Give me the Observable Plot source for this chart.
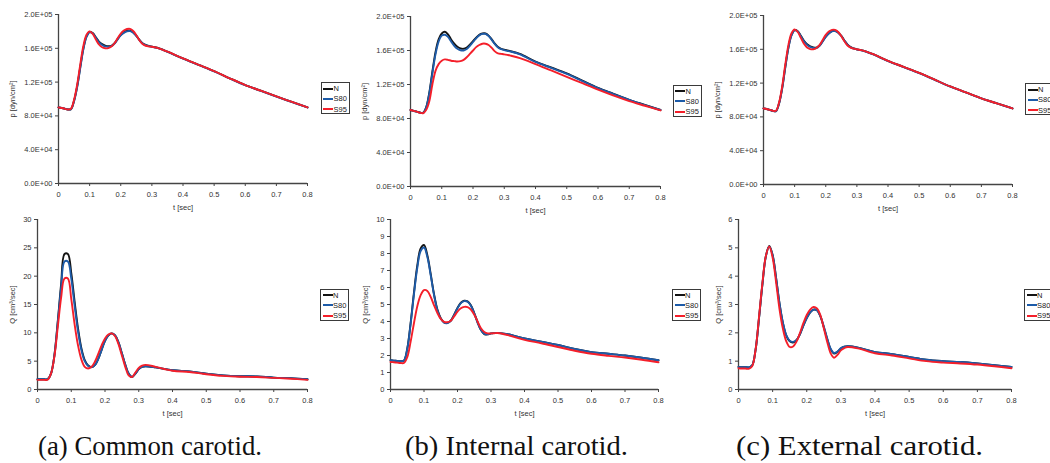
<!DOCTYPE html>
<html>
<head>
<meta charset="utf-8">
<script src="https://cdn.jsdelivr.net/npm/d3@7"></script>
<script src="https://cdn.jsdelivr.net/npm/@observablehq/plot@0.6"></script>
<style>
  body { margin: 0; background: #fff; }
  #fig { position: relative; width: 1050px; height: 463px; overflow: hidden; background: #fff; }
  .panel { position: absolute; }
  .legend {
    position: absolute; box-sizing: border-box; width: 29px; height: 32px;
    border: 1px solid #3a3a3a; background: #fff; padding: 0.5px 0 0 1.5px;
    font: 7.5px "Liberation Sans", Arial, sans-serif; color: #222;
  }
  .legend .row { display: flex; align-items: center; height: 10.3px; white-space: nowrap; }
  .legend .sw { display: inline-block; width: 10px; height: 2px; margin-right: 0.5px; }
  #captions { position: absolute; left: 0; top: 0; }
</style>
</head>
<body>
<div id="fig"></div>
<script>
// Time samples over one cardiac cycle [sec]
const t = [0, 0.01, 0.02, 0.03, 0.04, 0.05, 0.06, 0.07, 0.08, 0.09, 0.10,
  0.11, 0.12, 0.13, 0.14, 0.15, 0.16, 0.17, 0.18, 0.19, 0.20,
  0.21, 0.22, 0.23, 0.24, 0.25, 0.26, 0.27, 0.28, 0.29, 0.30, 0.31, 0.32,
  0.35, 0.40, 0.45, 0.50, 0.55, 0.60, 0.65, 0.70, 0.75, 0.80];

const series = ["N", "S80", "S95"];
const seriesColors = ["#141414", "#1d5ba8", "#f41f2a"];

// Pressure, in units of 1E+05 dyn/cm^2
const pCommonN   = [0.900,0.893,0.885,0.876,0.880,0.980,1.150,1.380,1.600,1.740,1.795,1.780,1.730,1.680,1.650,1.632,1.625,1.630,1.660,1.710,1.760,1.790,1.808,1.810,1.790,1.750,1.700,1.660,1.640,1.628,1.620,1.612,1.604,1.560,1.480,1.405,1.330,1.245,1.165,1.098,1.030,0.965,0.900];
const pCommonS80 = [0.900,0.893,0.885,0.876,0.880,0.975,1.140,1.370,1.590,1.735,1.790,1.775,1.725,1.672,1.640,1.622,1.617,1.625,1.655,1.705,1.752,1.782,1.800,1.803,1.785,1.745,1.698,1.658,1.638,1.626,1.618,1.610,1.602,1.558,1.478,1.403,1.328,1.243,1.163,1.097,1.029,0.964,0.900];
const pCommonS95 = [0.900,0.893,0.885,0.876,0.885,0.990,1.170,1.410,1.630,1.760,1.800,1.770,1.705,1.645,1.612,1.600,1.602,1.620,1.660,1.720,1.775,1.810,1.828,1.830,1.805,1.755,1.695,1.650,1.630,1.622,1.618,1.611,1.603,1.560,1.480,1.405,1.330,1.245,1.165,1.098,1.030,0.965,0.900];

const pInternalN   = [0.900,0.890,0.880,0.870,0.865,0.930,1.100,1.350,1.580,1.730,1.800,1.820,1.790,1.730,1.680,1.645,1.625,1.620,1.635,1.670,1.710,1.750,1.785,1.800,1.800,1.775,1.730,1.680,1.640,1.620,1.610,1.600,1.592,1.560,1.470,1.400,1.330,1.245,1.160,1.090,1.020,0.960,0.900];
const pInternalS80 = [0.900,0.890,0.880,0.870,0.865,0.925,1.090,1.330,1.555,1.705,1.775,1.785,1.760,1.705,1.655,1.620,1.603,1.600,1.618,1.655,1.700,1.742,1.778,1.795,1.795,1.770,1.725,1.676,1.636,1.615,1.605,1.596,1.588,1.555,1.465,1.395,1.325,1.240,1.157,1.088,1.018,0.958,0.900];
const pInternalS95 = [0.900,0.890,0.880,0.868,0.862,0.900,1.000,1.200,1.360,1.440,1.480,1.495,1.490,1.480,1.475,1.470,1.475,1.490,1.520,1.560,1.600,1.640,1.665,1.680,1.680,1.665,1.630,1.590,1.565,1.560,1.555,1.548,1.540,1.510,1.440,1.365,1.290,1.215,1.140,1.070,1.005,0.950,0.895];

const pExternalN   = [0.900,0.893,0.884,0.872,0.868,0.960,1.140,1.390,1.620,1.770,1.828,1.815,1.760,1.700,1.660,1.635,1.622,1.620,1.645,1.695,1.750,1.790,1.815,1.820,1.800,1.760,1.705,1.655,1.625,1.610,1.600,1.592,1.585,1.545,1.463,1.392,1.320,1.240,1.160,1.090,1.020,0.960,0.900];
const pExternalS80 = [0.900,0.893,0.884,0.872,0.868,0.958,1.135,1.385,1.615,1.765,1.825,1.812,1.755,1.695,1.652,1.628,1.615,1.615,1.642,1.692,1.748,1.788,1.812,1.817,1.797,1.757,1.702,1.653,1.623,1.608,1.598,1.590,1.583,1.543,1.461,1.390,1.318,1.238,1.158,1.089,1.019,0.959,0.900];
const pExternalS95 = [0.900,0.893,0.884,0.872,0.872,0.970,1.160,1.420,1.650,1.790,1.835,1.805,1.735,1.665,1.622,1.603,1.600,1.615,1.650,1.710,1.770,1.810,1.830,1.830,1.805,1.755,1.695,1.645,1.620,1.608,1.600,1.592,1.585,1.545,1.463,1.392,1.320,1.240,1.160,1.090,1.020,0.960,0.900];

// Flow rate [cm^3/sec]
const qCommonN   = [1.80,1.80,1.80,1.82,2.80,6.00,12.0,18.6,23.9,23.9,20.6,15.5,10.8,7.30,5.20,4.25,3.95,4.30,5.40,7.00,8.60,9.55,9.90,9.55,8.30,6.40,4.40,2.80,2.20,2.80,3.60,4.00,4.10,3.90,3.40,3.20,2.80,2.50,2.35,2.30,2.10,2.00,1.80];
const qCommonS80 = [1.80,1.80,1.80,1.82,2.80,6.00,11.8,18.0,22.6,22.6,19.6,14.8,10.3,7.00,5.00,4.15,3.90,4.30,5.40,7.00,8.60,9.55,9.90,9.55,8.30,6.40,4.40,2.80,2.20,2.80,3.60,4.00,4.10,3.90,3.40,3.20,2.80,2.50,2.35,2.30,2.10,2.00,1.80];
const qCommonS95 = [1.70,1.70,1.70,1.72,2.80,5.80,11.0,16.2,19.6,19.6,16.0,11.5,7.80,5.30,4.00,3.70,4.00,4.90,6.30,7.80,9.00,9.70,9.90,9.40,8.00,6.00,4.00,2.50,2.20,3.00,3.80,4.20,4.35,4.00,3.30,3.10,2.70,2.40,2.25,2.20,2.05,1.90,1.70];

const qInternalN   = [1.72,1.70,1.68,1.66,1.70,2.40,3.90,5.70,7.30,8.30,8.50,7.90,6.80,5.60,4.70,4.20,3.95,3.92,4.05,4.40,4.80,5.10,5.22,5.18,4.95,4.50,3.95,3.50,3.26,3.24,3.30,3.32,3.33,3.25,3.00,2.82,2.62,2.38,2.20,2.10,2.00,1.87,1.72];
const qInternalS80 = [1.72,1.70,1.68,1.66,1.70,2.38,3.85,5.60,7.15,8.15,8.35,7.80,6.72,5.55,4.66,4.17,3.93,3.91,4.04,4.38,4.78,5.08,5.20,5.16,4.93,4.48,3.94,3.50,3.27,3.25,3.30,3.32,3.33,3.25,3.00,2.82,2.62,2.38,2.20,2.10,2.00,1.87,1.72];
const qInternalS95 = [1.62,1.60,1.58,1.56,1.56,1.90,2.80,3.90,4.90,5.55,5.85,5.80,5.45,4.95,4.50,4.15,3.98,3.96,4.05,4.30,4.58,4.78,4.86,4.85,4.70,4.40,4.00,3.60,3.38,3.30,3.30,3.31,3.32,3.20,2.92,2.72,2.50,2.28,2.10,1.98,1.88,1.75,1.60];

const qExternalN   = [0.80,0.79,0.79,0.78,0.85,1.40,2.50,3.70,4.70,5.07,4.75,3.95,3.05,2.35,1.90,1.70,1.66,1.74,1.95,2.25,2.52,2.72,2.82,2.80,2.58,2.20,1.78,1.42,1.27,1.33,1.45,1.51,1.53,1.48,1.32,1.25,1.15,1.05,1.00,0.97,0.92,0.86,0.80];
const qExternalS80 = [0.80,0.79,0.79,0.78,0.85,1.40,2.50,3.70,4.68,5.05,4.74,3.95,3.06,2.37,1.92,1.72,1.68,1.75,1.95,2.25,2.52,2.72,2.82,2.80,2.59,2.22,1.80,1.44,1.29,1.34,1.46,1.51,1.53,1.48,1.32,1.25,1.15,1.05,1.00,0.97,0.92,0.86,0.80];
const qExternalS95 = [0.75,0.74,0.74,0.73,0.82,1.40,2.55,3.75,4.70,5.05,4.65,3.80,2.85,2.15,1.70,1.50,1.52,1.69,1.99,2.34,2.63,2.82,2.91,2.86,2.62,2.16,1.68,1.28,1.12,1.22,1.38,1.46,1.50,1.45,1.28,1.20,1.10,1.00,0.95,0.92,0.88,0.82,0.75];

// Axis ticks
const tTicks = [0, 0.1, 0.2, 0.3, 0.4, 0.5, 0.6, 0.7, 0.8];
const pTicks = [0, 40000, 80000, 120000, 160000, 200000];
const qCommonTicks = [0, 5, 10, 15, 20, 25, 30];
const qInternalTicks = [0, 1, 2, 3, 4, 5, 6, 7, 8, 9, 10];
const qExternalTicks = [0, 1, 2, 3, 4, 5, 6];

const captions = ["(a) Common carotid.", "(b) Internal carotid.", "(c) External carotid."];

// Excel-style scientific labels, e.g. 1.6E+05
const sci = d => {
  const [m, e] = d.toExponential(1).split("e");
  return m + "E" + (e[0] === "-" ? "-" : "+") + String(Math.abs(+e)).padStart(2, "0");
};
const tFmt = d => d === 0 ? "0" : d.toFixed(1);

const rows = (arrays, k = 1) =>
  arrays.flatMap((vals, j) => vals.map((v, i) => ({t: t[i], v: v * k, s: series[j]})));

const panels = [
  {left: 0,   top: 0,   m: [14, 43, 32, 58], data: rows([pCommonN, pCommonS80, pCommonS95], 1e5),
   ymax: 200000, yTicks: pTicks, yFmt: sci, yLabel: "p [dyn/cm²]", yOff: 49, leg: [320.5, 82]},
  {left: 350, top: 0,   m: [16, 40, 29, 60], data: rows([pInternalN, pInternalS80, pInternalS95], 1e5),
   ymax: 200000, yTicks: pTicks, yFmt: sci, yLabel: "p [dyn/cm²]", yOff: 49, leg: [672.5, 84.5]},
  {left: 700, top: 0,   m: [15, 38, 31, 63], data: rows([pExternalN, pExternalS80, pExternalS95], 1e5),
   ymax: 200000, yTicks: pTicks, yFmt: sci, yLabel: "p [dyn/cm²]", yOff: 49, leg: [1025, 83]},
  {left: 0,   top: 210, m: [9, 43, 36, 37], data: rows([qCommonN, qCommonS80, qCommonS95]),
   ymax: 30, yTicks: qCommonTicks, yFmt: String, yLabel: "Q [cm³/sec]", yOff: 28, leg: [320, 288.5]},
  {left: 350, top: 210, m: [9, 42, 36, 40], data: rows([qInternalN, qInternalS80, qInternalS95]),
   ymax: 10, yTicks: qInternalTicks, yFmt: String, yLabel: "Q [cm³/sec]", yOff: 28, leg: [672, 288.5]},
  {left: 700, top: 210, m: [9, 39, 36, 38], data: rows([qExternalN, qExternalS80, qExternalS95]),
   ymax: 6, yTicks: qExternalTicks, yFmt: String, yLabel: "Q [cm³/sec]", yOff: 23, leg: [1024, 288.5]}
];

const fig = document.getElementById("fig");
const axisInk = "#444";
const textInk = "#333";

for (const p of panels) {
  const [mt, mr, mb, ml] = p.m;
  const chart = Plot.plot({
    width: 350, height: 215,
    marginTop: mt, marginRight: mr, marginBottom: mb, marginLeft: ml,
    style: {background: "transparent", fontFamily: "'Liberation Sans', Arial, sans-serif", fontSize: "7.5px", color: textInk},
    x: {domain: [0, 0.8]},
    y: {domain: [0, p.ymax]},
    color: {domain: series, range: seriesColors},
    marks: [
      Plot.axisX({ticks: tTicks, tickFormat: tFmt, tickSize: 3, tickPadding: 5, stroke: axisInk, fill: textInk,
        label: null}),
      Plot.axisX({ticks: [], label: "t [sec]", labelAnchor: "center", labelArrow: "none", labelOffset: 26, fill: textInk}),
      Plot.axisY({ticks: p.yTicks, tickFormat: p.yFmt, tickSize: 3, tickPadding: 3, stroke: axisInk, fill: textInk,
        label: p.yLabel, labelAnchor: "center", labelArrow: "none", labelOffset: p.yOff}),
      Plot.ruleX([0], {stroke: axisInk, strokeWidth: 1.3}),
      Plot.ruleY([0], {stroke: axisInk, strokeWidth: 1.3}),
      Plot.line(p.data, {x: "t", y: "v", z: "s", stroke: "s", strokeWidth: 1.9, curve: "catmull-rom"})
    ]
  });
  chart.classList.add("panel");
  chart.style.left = p.left + "px";
  chart.style.top = p.top + "px";
  fig.appendChild(chart);

  const leg = document.createElement("div");
  leg.className = "legend";
  leg.style.left = p.leg[0] + "px";
  leg.style.top = p.leg[1] + "px";
  series.forEach((s, i) => {
    const row = document.createElement("div");
    row.className = "row";
    row.innerHTML = `<span class="sw" style="background:${seriesColors[i]}"></span><span>${s}</span>`;
    leg.appendChild(row);
  });
  fig.appendChild(leg);
}

// Sub-figure captions
const capSvg = d3.create("svg").attr("id", "captions").attr("width", 1050).attr("height", 463);
const capPos = [[38, 224], [405, 223], [736, 247]];
capSvg.selectAll("text").data(captions).join("text")
  .attr("x", (d, i) => capPos[i][0])
  .attr("y", 455)
  .attr("textLength", (d, i) => capPos[i][1])
  .attr("lengthAdjust", "spacingAndGlyphs")
  .attr("font-family", "'Liberation Serif', 'DejaVu Serif', serif")
  .attr("font-size", 27)
  .attr("fill", "#111")
  .text(d => d);
fig.appendChild(capSvg.node());
</script>
</body>
</html>
